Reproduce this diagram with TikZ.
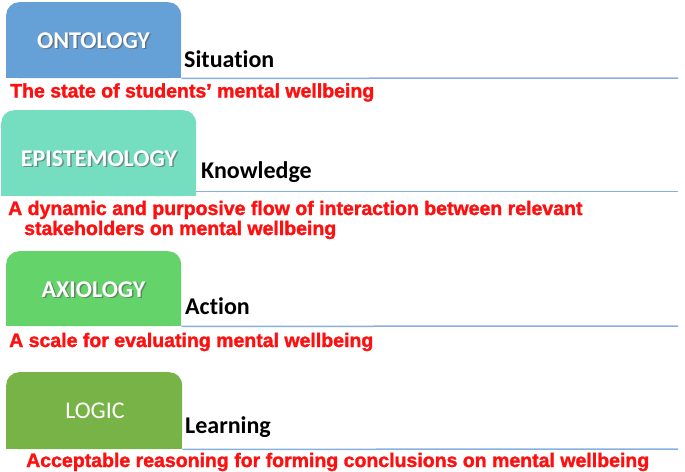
\documentclass[tikz,border=0pt]{standalone}
\usepackage{fontspec}
\setmainfont{Carlito}[Ligatures={NoCommon,NoRequired,NoContextual}]
\newfontfamily\descfam[FakeBold=1.6]{Liberation Sans Bold}
\definecolor{cOnt}{RGB}{101,160,214}
\definecolor{cEpi}{RGB}{118,222,192}
\definecolor{cAxi}{RGB}{99,211,106}
\definecolor{cLog}{RGB}{119,179,71}
\definecolor{ruleblue}{RGB}{135,176,226}
\definecolor{descred}{RGB}{255,16,16}
\definecolor{shadowgray}{RGB}{90,90,90}
\tikzset{
  tabbox/.style={rounded corners=13pt, minimum height=0pt, anchor=north west, inner sep=0pt, draw=none},
  titletxt/.style={anchor=base, inner sep=0pt, text=white, font=\fontsize{24}{28}\selectfont\bfseries},
  titleshadow/.style={anchor=base, inner sep=0pt, text=shadowgray, opacity=0.6, font=\fontsize{24}{28}\selectfont\bfseries},
  logictxt/.style={anchor=base, inner sep=0pt, text=white, font=\fontsize{24}{28}\selectfont},
  wordtxt/.style={anchor=base west, inner sep=0pt, text=black, font=\fontsize{24}{28}\selectfont\bfseries},
  desctxt/.style={anchor=base west, inner sep=0pt, text=descred, font=\descfam\fontsize{19.5}{23}\selectfont},
  ruleline/.style={draw=ruleblue, line width=1.5pt}
}
\begin{document}
\begin{tikzpicture}[x=1pt,y=-1pt]
\useasboundingbox (0,0) rectangle (685,471);
% ONTOLOGY
\node[tabbox, fill=cOnt, minimum width=175pt, minimum height=76pt] (ontbox) at (6,2) {};
\fill[cOnt] (ontbox.west) rectangle (ontbox.south east);
\coordinate (ontend) at (678,78);
\draw[ruleline] (ontbox.south east) -- (ontend);
\node[titleshadow] (ontsh) at (95,49.5) {ONTOLOGY};
\node[titletxt] (ont) at (93.5,48) {ONTOLOGY};
\node[wordtxt] (sit) at (184,67) {Situation};
\node[desctxt] (d1) at (10,97.5) {The state of students’ mental wellbeing};
% EPISTEMOLOGY
\node[tabbox, fill=cEpi, minimum width=195pt, minimum height=86pt] (epibox) at (1,110) {};
\fill[cEpi] (epibox.west) rectangle (epibox.south east);
\coordinate (epistart) at (196,191.5);
\coordinate (epiend) at (678,191.5);
\draw[ruleline] (epistart) -- (epiend);
\node[titleshadow] (epish) at (100.5,167.5) {EPISTEMOLOGY};
\node[titletxt] (epi) at (99,166) {EPISTEMOLOGY};
\node[wordtxt] (kno) at (201,178.5) {Knowledge};
\node[desctxt] (d2a) at (8,215) {A dynamic and purposive flow of interaction between relevant};
\node[desctxt] (d2b) at (24,235) {stakeholders on mental wellbeing};
% AXIOLOGY
\node[tabbox, fill=cAxi, minimum width=175pt, minimum height=75pt] (axibox) at (6,251) {};
\fill[cAxi] (axibox.west) rectangle (axibox.south east);
\coordinate (axiend) at (678,326);
\draw[ruleline] (axibox.south east) -- (axiend);
\node[titleshadow] (axish) at (95,298.5) {AXIOLOGY};
\node[titletxt] (axi) at (93.5,297) {AXIOLOGY};
\node[wordtxt] (act) at (185,314) {Action};
\node[desctxt] (d3) at (9,347) {A scale for evaluating mental wellbeing};
% LOGIC
\node[tabbox, fill=cLog, minimum width=176pt, minimum height=77pt] (logbox) at (6,372) {};
\fill[cLog] (logbox.west) rectangle (logbox.south east);
\coordinate (logend) at (678,449);
\draw[ruleline] (logbox.south east) -- (logend);
\node[logictxt] (log) at (95,418) {LOGIC};
\node[wordtxt] (lea) at (185,433.5) {Learning};
\node[desctxt] (d4) at (26,467) {Acceptable reasoning for forming conclusions on mental wellbeing};
\end{tikzpicture}
\end{document}
